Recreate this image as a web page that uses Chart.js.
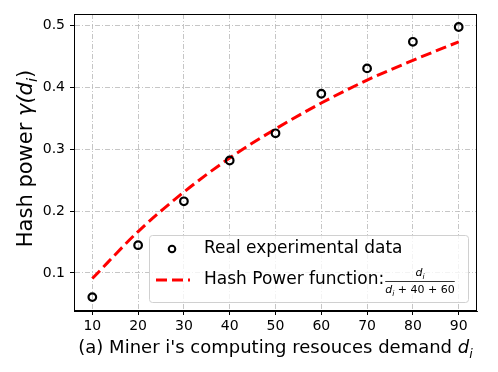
<!DOCTYPE html>
<html>
<head>
<meta charset="utf-8">
<script src="https://cdn.jsdelivr.net/npm/chart.js@4"></script>
<style>
  html, body { margin: 0; padding: 0; background: #fff; }
  #wrap { width: 498px; height: 372px; }
</style>
</head>
<body>
<div id="wrap"><canvas id="chart" width="498" height="372"></canvas></div>
<script>
// values
const demand = [10, 20, 30, 40, 50, 60, 70, 80, 90];
const realData = [0.061, 0.145, 0.216, 0.282, 0.326, 0.390, 0.431, 0.474, 0.498];
const fitData = [0.091, 0.167, 0.231, 0.286, 0.333, 0.375, 0.412, 0.444, 0.474];
const xTicks = [10, 20, 30, 40, 50, 60, 70, 80, 90];
const yTicks = [0.1, 0.2, 0.3, 0.4, 0.5];

const FONT = "'DejaVu Sans', sans-serif";

function partsFont(p, size) {
  return (p.italic ? 'italic ' : '') + (p.sub ? size * 0.7 : size) + 'px ' + FONT;
}

function partsWidth(ctx, parts, size) {
  let w = 0;
  parts.forEach(p => { ctx.font = partsFont(p, size); w += ctx.measureText(p.t).width; });
  return w;
}

// draws text pieces in a row, sub pieces are lowered and smaller
function drawParts(ctx, parts, x, y, size) {
  let cx = x;
  parts.forEach(p => {
    ctx.font = partsFont(p, size);
    ctx.fillText(p.t, cx, y + (p.sub ? size * 0.25 : 0));
    cx += ctx.measureText(p.t).width;
  });
}

const extras = {
  id: 'extras',
  afterDraw(c) {
    const ctx = c.ctx;
    const a = c.chartArea;
    ctx.save();
    // frame
    ctx.strokeStyle = '#000';
    ctx.lineWidth = 1;
    ctx.strokeRect(a.left + 0.5, a.top + 0.5, a.right - a.left - 1, a.bottom - a.top - 1);

    // legend box
    const lx = a.left + 75, ly = a.bottom - 76, lw = 319, lh = 67;
    ctx.fillStyle = 'rgba(255,255,255,0.8)';
    ctx.strokeStyle = '#d0d0d0';
    ctx.lineWidth = 1;
    ctx.beginPath();
    ctx.roundRect(lx + 0.5, ly + 0.5, lw, lh, 3);
    ctx.fill();
    ctx.stroke();

    // marker entry
    ctx.strokeStyle = '#000';
    ctx.lineWidth = 2;
    ctx.beginPath();
    ctx.arc(lx + 23, ly + 14, 3.3, 0, Math.PI * 2);
    ctx.stroke();
    ctx.fillStyle = '#000';
    ctx.textBaseline = 'middle';
    ctx.textAlign = 'left';
    ctx.font = '17px ' + FONT;
    ctx.fillText('Real experimental data', lx + 55, ly + 14);

    // line entry
    ctx.strokeStyle = '#ff0000';
    ctx.lineWidth = 3;
    ctx.setLineDash([11, 5]);
    ctx.beginPath();
    ctx.moveTo(lx + 7, ly + 45);
    ctx.lineTo(lx + 41, ly + 45);
    ctx.stroke();
    ctx.setLineDash([]);
    ctx.font = '17px ' + FONT;
    ctx.fillText('Hash Power function:', lx + 55, ly + 45);
    const fx = lx + 55 + ctx.measureText('Hash Power function:').width + 1;

    // fraction d_i / (d_i + 40 + 60)
    ctx.textBaseline = 'alphabetic';
    const den = [{t: 'd', italic: true}, {t: 'i', italic: true, sub: true}, {t: ' + 40 + 60'}];
    const num = [{t: 'd', italic: true}, {t: 'i', italic: true, sub: true}];
    const dw = partsWidth(ctx, den, 11);
    const nw = partsWidth(ctx, num, 11);
    drawParts(ctx, den, fx, ly + 58, 11);
    drawParts(ctx, num, fx + (dw - nw) / 2, ly + 41, 11);
    ctx.strokeStyle = '#000';
    ctx.lineWidth = 0.8;
    ctx.beginPath();
    ctx.moveTo(fx, ly + 46.5);
    ctx.lineTo(fx + dw, ly + 46.5);
    ctx.stroke();

    // axis titles
    ctx.fillStyle = '#000';
    const xt = [{t: "(a) Miner i's computing resouces demand "}, {t: 'd', italic: true}, {t: 'i', italic: true, sub: true}];
    const xw = partsWidth(ctx, xt, 18);
    drawParts(ctx, xt, (a.left + a.right) / 2 - xw / 2, 353, 18);

    const yt = [{t: 'Hash power '}, {t: 'γ(', italic: true}, {t: 'd', italic: true}, {t: 'i', italic: true, sub: true}, {t: ')'}];
    const yw = partsWidth(ctx, yt, 21);
    ctx.translate(32, (a.top + a.bottom) / 2 - 4);
    ctx.rotate(-Math.PI / 2);
    drawParts(ctx, yt, -yw / 2, 0, 21);
    ctx.restore();
  }
};

const gridCfg = {
  color: '#b8b8b8',
  lineWidth: 0.8,
  tickColor: '#000',
  tickLength: 4,
  tickWidth: 1
};

new Chart(document.getElementById('chart'), {
  type: 'line',
  data: {
    datasets: [
      {
        label: 'Real experimental data',
        data: demand.map((d, i) => ({x: d, y: realData[i]})),
        showLine: false,
        pointRadius: 3.8,
        pointBorderWidth: 2.2,
        pointBorderColor: '#000',
        pointBackgroundColor: 'rgba(0,0,0,0)',
        order: 1
      },
      {
        label: 'Hash Power function',
        data: demand.map((d, i) => ({x: d, y: fitData[i]})),
        borderColor: '#ff0000',
        borderWidth: 3,
        borderDash: [11, 5],
        pointRadius: 0,
        tension: 0.4,
        cubicInterpolationMode: 'monotone',
        fill: false,
        order: 2
      }
    ]
  },
  options: {
    responsive: false,
    animation: false,
    layout: { padding: { top: 14, right: 21, left: 0, bottom: 0 } },
    plugins: { legend: { display: false }, tooltip: { enabled: false } },
    scales: {
      x: {
        type: 'linear',
        min: 6,
        max: 94,
        afterFit: s => { s.height = 61; },
        afterBuildTicks: s => { s.ticks = xTicks.map(v => ({value: v})); },
        grid: gridCfg,
        border: { display: true, color: '#000', dash: [5, 2, 1, 2] },
        ticks: { color: '#000', font: { family: FONT, size: 14 }, padding: 3, maxRotation: 0 }
      },
      y: {
        type: 'linear',
        min: 0.0385,
        max: 0.519,
        afterFit: s => { s.width = 74; },
        afterBuildTicks: s => { s.ticks = yTicks.map(v => ({value: v})); },
        grid: gridCfg,
        border: { display: true, color: '#000', dash: [5, 2, 1, 2] },
        ticks: { color: '#000', font: { family: FONT, size: 14 }, padding: 5,
          callback: v => v.toFixed(1) }
      }
    }
  },
  plugins: [extras]
});
</script>
</body>
</html>
